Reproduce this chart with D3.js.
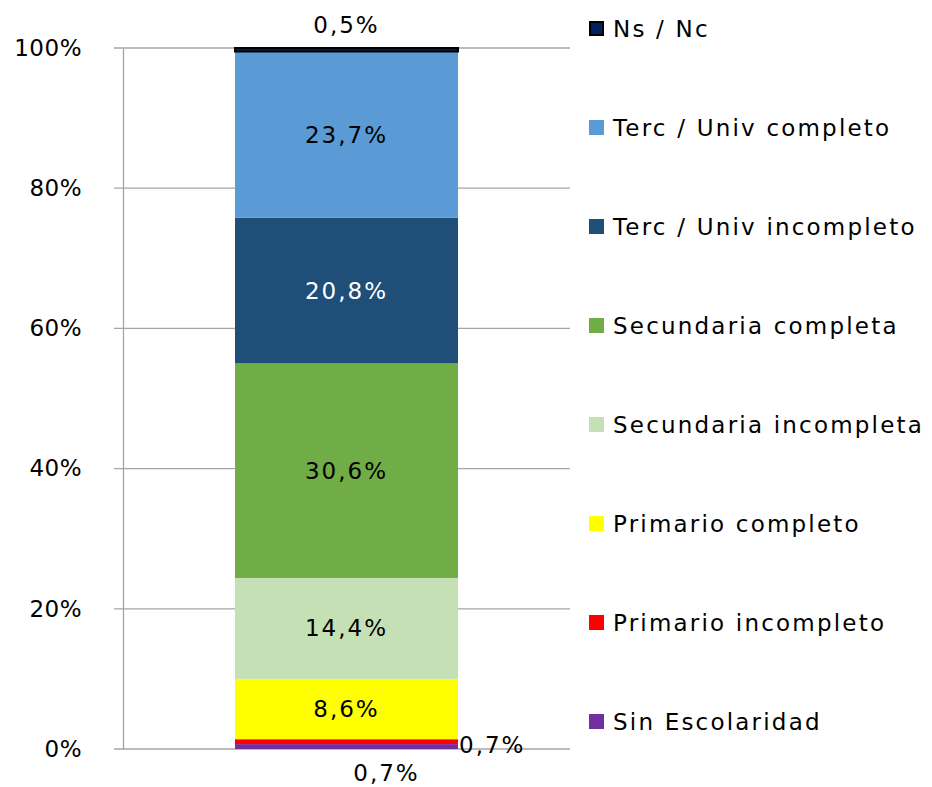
<!DOCTYPE html>
<html>
<head>
<meta charset="utf-8">
<script src="https://cdn.jsdelivr.net/npm/d3@7"></script>
<style>
  body { margin: 0; background: #fff; }
  text { font-family: "DejaVu Sans", sans-serif; fill: #000; }
</style>
</head>
<body>
<div class="canvas"></div>
<script>
// Data (bottom to top)
const categories = ['Sin Escolaridad', 'Primario incompleto', 'Primario completo', 'Secundaria incompleta',
    'Secundaria completa', 'Terc / Univ incompleto', 'Terc / Univ completo', 'Ns / Nc'];
const values = [0.7, 0.7, 8.6, 14.4, 30.6, 20.8, 23.7, 0.5];
const colors = ['#7030a0', '#ff0000', '#ffff00', '#c5e0b4', '#70ad47', '#1f4e79', '#5b9bd5', '#002060'];
const labelColors = ['#000', '#000', '#000', '#000', '#000', '#fff', '#000', '#000'];
const yTicks = [0, 20, 40, 60, 80, 100];

const width = 932, height = 787;
const
    plotL = 123,
    plotR = 570,
    plotT = 48,
    plotB = 749,
    barL = 235,
    barR = 458;

const svg = d3.select('.canvas')
    .append('svg')
    .attr('width', width)
    .attr('height', height);

const yScale = d3.scaleLinear()
    .domain([0, 100])
    .range([plotB, plotT]);

//Gridlines
svg.append('g')
    .selectAll('line')
    .data(yTicks)
    .enter()
    .append('line')
    .attr('x1', plotL - 9)
    .attr('x2', plotR)
    .attr('y1', d => yScale(d))
    .attr('y2', d => yScale(d))
    .attr('stroke', '#a6a6a6')
    .attr('stroke-width', 1.3);

//Y-Axis
const yAxis = d3.axisLeft(yScale)
    .tickValues(yTicks)
    .tickSize(0)
    .tickPadding(41)
    .tickFormat(d => d + '%');
svg.append('g')
    .attr('transform', `translate(${plotL}, 0)`)
    .call(yAxis)
    .call(g => g.select('.domain').attr('stroke', '#a6a6a6').attr('stroke-width', 1.3))
    .call(g => g.selectAll('text').attr('font-size', 23).attr('fill', '#000')
        .style('font-family', '"DejaVu Sans", sans-serif')
        .style('letter-spacing', '0.5px'));

//Stack
let cum = 0;
const stacked = values.map((v, i) => {
    const d = { name: categories[i], value: v, y0: cum, y1: cum + v, i };
    cum += v;
    return d;
});

svg.append('g')
    .selectAll('rect')
    .data(stacked)
    .enter()
    .append('rect')
    .attr('x', barL)
    .attr('width', barR - barL)
    .attr('y', d => yScale(d.y1))
    .attr('height', d => yScale(d.y0) - yScale(d.y1))
    .attr('fill', d => colors[d.i])
    .attr('stroke', d => d.i === 7 ? '#000' : 'none')
    .attr('stroke-width', 2);

//Labels
const fmt = v => d3.format('.1f')(v).replace('.', ',') + '%';
const labelPos = d => {
    const mid = (yScale(d.y0) + yScale(d.y1)) / 2;
    if (d.i === 0) return { x: (barL + barR) / 2 + 40, y: plotB + 24, anchor: 'middle' };
    if (d.i === 1) return { x: barR + 1, y: plotB - 4, anchor: 'start' };
    if (d.i === 7) return { x: (barL + barR) / 2, y: plotT - 23, anchor: 'middle' };
    return { x: (barL + barR) / 2, y: mid, anchor: 'middle' };
};
svg.append('g')
    .selectAll('text')
    .data(stacked)
    .enter()
    .append('text')
    .attr('x', d => labelPos(d).x)
    .attr('y', d => labelPos(d).y)
    .attr('text-anchor', d => labelPos(d).anchor)
    .attr('dominant-baseline', 'central')
    .attr('font-size', 23)
    .style('letter-spacing', '2px')
    .style('fill', d => labelColors[d.i])
    .text(d => fmt(d.value));

//Legend
const legendY = d3.scalePoint()
    .domain(categories.slice().reverse())
    .range([29, 722]);
const legend = svg.append('g')
    .selectAll('g')
    .data(stacked)
    .enter()
    .append('g')
    .attr('transform', d => `translate(589, ${legendY(d.name)})`);
legend.append('rect')
    .attr('x', d => d.i === 7 ? 1 : 0)
    .attr('y', d => d.i === 7 ? -7 : -8)
    .attr('width', d => d.i === 7 ? 13 : 15)
    .attr('height', d => d.i === 7 ? 13 : 15)
    .attr('fill', d => colors[d.i])
    .attr('stroke', d => d.i === 7 ? '#000' : 'none')
    .attr('stroke-width', 2);
legend.append('text')
    .attr('x', 24)
    .attr('y', 0)
    .attr('dominant-baseline', 'central')
    .attr('font-size', 23)
    .style('letter-spacing', '2.2px')
    .text(d => d.name);
</script>
</body>
</html>
